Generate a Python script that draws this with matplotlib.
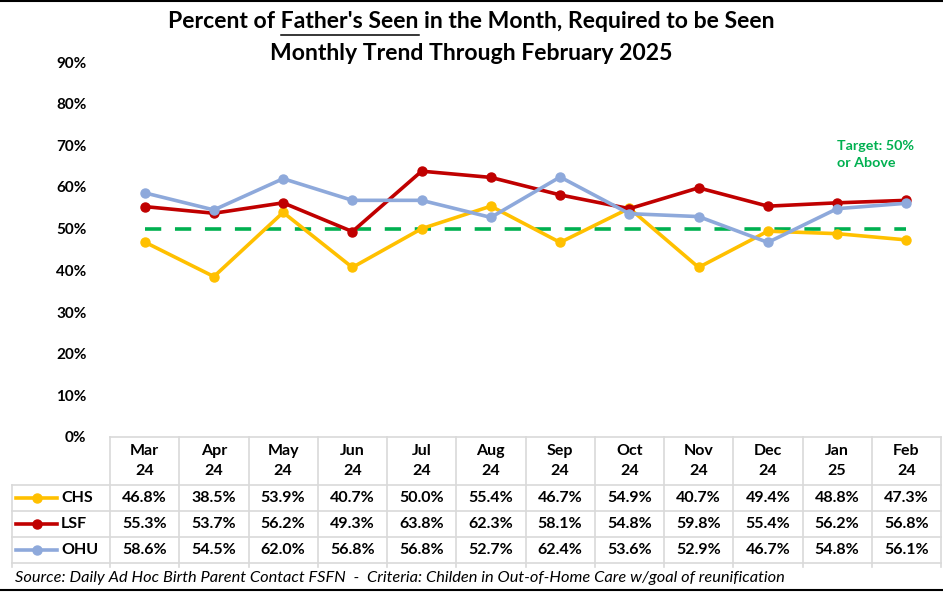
import matplotlib
matplotlib.use("Agg")
import matplotlib.pyplot as plt
import matplotlib.transforms as mtransforms
from matplotlib.lines import Line2D

months = ["Mar\n24", "Apr\n24", "May\n24", "Jun\n24", "Jul\n24", "Aug\n24",
          "Sep\n24", "Oct\n24", "Nov\n24", "Dec\n24", "Jan\n25", "Feb\n24"]
series_names = ["CHS", "LSF", "OHU"]
chs = [46.8, 38.5, 53.9, 40.7, 50.0, 55.4, 46.7, 54.9, 40.7, 49.4, 48.8, 47.3]
lsf = [55.3, 53.7, 56.2, 49.3, 63.8, 62.3, 58.1, 54.8, 59.8, 55.4, 56.2, 56.8]
ohu = [58.6, 54.5, 62.0, 56.8, 56.8, 52.7, 62.4, 53.6, 52.9, 46.7, 54.8, 56.1]
colors = ["#FFC000", "#C00000", "#8EA9DB"]
target = 50.0
yticks = [0, 10, 20, 30, 40, 50, 60, 70, 80, 90]

FONT = ["Lato", "DejaVu Sans"]
plt.rcParams["font.family"] = FONT

W, H = 943, 592
fig = plt.figure(figsize=(W / 100, H / 100), dpi=100)

def fx(px):
    return px / W

def fy(py):
    return 1 - py / H

x_left, x_right = 110, 941
y_top, y_bot = 62, 437
ax = fig.add_axes([fx(x_left), fy(y_bot), fx(x_right) - fx(x_left), fy(y_top) - fy(y_bot)])
n = len(months)
xs = list(range(n))
ax.set_xlim(-0.5, n - 0.5)
ax.set_ylim(0, 90)
ax.set_yticks(yticks)
ax.set_yticklabels([f"{v}%" for v in yticks], fontsize=11, fontweight="bold")
ax.tick_params(axis="y", length=0, pad=17)
ax.set_xticks([])
for s in ax.spines.values():
    s.set_visible(False)

for vals, c in zip([chs, lsf, ohu], colors):
    ax.plot(xs, vals, color=c, lw=2.6, marker="o", ms=6.5, zorder=3)
ax.plot([0, n - 1], [target, target], color="#00B050", lw=2.6,
        dashes=(4.5, 3.8), zorder=2)
ax.text(10.0, 67.8, "Target: 50%\nor Above", color="#00B050", fontsize=10.3,
        fontweight="bold", ha="left", va="center", linespacing=1.45)

TFS = 16.6
title1 = "Percent of Father's Seen in the Month, Required to be Seen"
fig.text(0.5, fy(22), title1, ha="center", va="center", fontsize=TFS, fontweight="bold")
fig.text(0.5, fy(53), "Monthly Trend Through February 2025",
         ha="center", va="center", fontsize=TFS, fontweight="bold")
# underline under "Father's Seen"
fig.canvas.draw()
renderer = fig.canvas.get_renderer()
pre = "Percent of "
mid = "Father's Seen"
tmp_full = fig.text(0, 0, title1, fontsize=TFS, fontweight="bold")
tmp_pre = fig.text(0, 0, pre + "x", fontsize=TFS, fontweight="bold")
tmp_x = fig.text(0, 0, "x", fontsize=TFS, fontweight="bold")
tmp_mid = fig.text(0, 0, mid, fontsize=TFS, fontweight="bold")
wf = tmp_full.get_window_extent(renderer).width
wp = tmp_pre.get_window_extent(renderer).width - tmp_x.get_window_extent(renderer).width
wm = tmp_mid.get_window_extent(renderer).width
for t in (tmp_full, tmp_pre, tmp_x, tmp_mid):
    t.remove()
start = W / 2 - wf / 2 + wp
fig.add_artist(Line2D([fx(start), fx(start + wm)], [fy(35), fy(35)],
                      color="black", lw=1.1))

# Table
grid_c = "#D9D9D9"
TBFS = 11.5
trans = mtransforms.blended_transform_factory(ax.transData, fig.transFigure)
row_y = [437, 485, 511, 537, 563]
fig.add_artist(Line2D([fx(x_left), fx(x_right)], [fy(row_y[0])] * 2, color=grid_c, lw=1.2))
for ry in row_y[1:]:
    fig.add_artist(Line2D([fx(12), fx(x_right)], [fy(ry)] * 2, color=grid_c, lw=1.2))
for i in range(n + 1):
    xb = i - 0.5
    ax.add_artist(Line2D([xb, xb], [fy(row_y[0]), fy(567)], transform=trans,
                         color=grid_c, lw=1.2, clip_on=False))
fig.add_artist(Line2D([fx(12), fx(12)], [fy(485), fy(567)], color=grid_c, lw=1.2))

for i, m in enumerate(months):
    ax.text(i, fy(461), m, transform=trans, ha="center", va="center",
            fontsize=TBFS, fontweight="bold", linespacing=1.5, clip_on=False)
row_centers = [498, 524, 550]
for vals, name, c, yc in zip([chs, lsf, ohu], series_names, colors, row_centers):
    fig.add_artist(Line2D([fx(16), fx(57)], [fy(yc)] * 2, color=c, lw=2.6))
    fig.add_artist(Line2D([fx(36.5)], [fy(yc)], color=c, marker="o", ms=6.5))
    fig.text(fx(61), fy(yc), name, ha="left", va="center", fontsize=TBFS,
             fontweight="bold")
    for i, v in enumerate(vals):
        ax.text(i, fy(yc), f"{v:.1f}%", transform=trans, ha="center", va="center",
                fontsize=TBFS, fontweight="bold", clip_on=False)

fig.text(fx(15), fy(578),
         "Source: Daily Ad Hoc Birth Parent Contact FSFN  -  Criteria: Childen in Out-of-Home Care w/goal of reunification",
         ha="left", va="center", fontsize=11.8, fontstyle="italic")

fig.add_artist(Line2D([0, 1], [fy(1), fy(1)], color="black", lw=1.5))
fig.add_artist(Line2D([0, 1], [fy(590), fy(590)], color="black", lw=1.5))

fig.savefig("out.png", dpi=100)
